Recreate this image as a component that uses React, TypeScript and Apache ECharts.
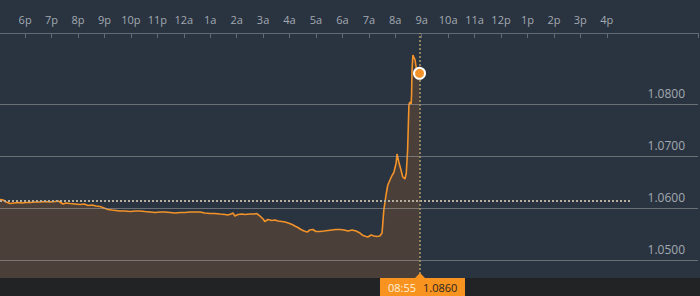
import React, { useEffect, useRef } from "react";
import * as echarts from "echarts";

// minutes relative to 18:00 (6p) of the previous day
const times = [
  -57, -50, -43, -34, -25, -16, -7, 2, 11, 23, 34, 45, 57, 68, 75, 79, 86, 93, 102, 113,
  125, 134, 143, 152, 161, 170, 179, 188, 197, 206, 215, 227, 238, 250, 261, 272, 284, 295,
  306, 318, 329, 340, 352, 363, 374, 386, 397, 408, 420, 431, 442, 454, 460, 467, 472, 476,
  483, 492, 499, 510, 519, 526, 533, 540, 544, 551, 560, 567, 574, 583, 590, 597, 606, 612,
  619, 626, 633, 640, 646, 653, 660, 669, 678, 687, 696, 705, 715, 724, 733, 742, 751, 760,
  767, 774, 778, 785, 792, 798, 805, 810, 814, 819, 823, 828, 832, 837, 842, 844, 848, 853,
  857, 862, 865, 868, 870, 871, 873, 876, 877, 878, 880, 882, 885, 887, 889, 891, 895,
];
const prices = [
  1.06173, 1.06163, 1.06125, 1.06096, 1.06106, 1.06115, 1.06106, 1.06115, 1.06115, 1.06125,
  1.06125, 1.06135, 1.06125, 1.06135, 1.06144, 1.06125, 1.06087, 1.06106, 1.06096, 1.06087,
  1.06077, 1.06087, 1.06058, 1.06067, 1.06048, 1.06038, 1.0601, 1.05981, 1.05971, 1.05962,
  1.05952, 1.05952, 1.05942, 1.05952, 1.05952, 1.05942, 1.05933, 1.05923, 1.05933, 1.05933,
  1.05923, 1.05913, 1.05923, 1.05923, 1.05933, 1.05933, 1.05933, 1.05913, 1.05904, 1.05904,
  1.05894, 1.05885, 1.05875, 1.05894, 1.05913, 1.05856, 1.05885, 1.05894, 1.05885, 1.05894,
  1.05894, 1.05904, 1.05856, 1.05798, 1.0575, 1.05788, 1.05769, 1.05779, 1.0576, 1.0575,
  1.0574, 1.05721, 1.05692, 1.05663, 1.05635, 1.05596, 1.05567, 1.05548, 1.05587, 1.05596,
  1.05558, 1.05558, 1.05567, 1.05577, 1.05587, 1.05596, 1.05596, 1.05587, 1.05567, 1.05587,
  1.05567, 1.05529, 1.05481, 1.05462, 1.05452, 1.0549, 1.05471, 1.05462, 1.05471, 1.05529,
  1.05971, 1.0626, 1.06452, 1.06548, 1.06625, 1.06702, 1.06875, 1.07048, 1.06894, 1.0674,
  1.06606, 1.06567, 1.06683, 1.07125, 1.07702, 1.0799, 1.08048, 1.0801, 1.08183, 1.08663,
  1.08952, 1.08913, 1.08856, 1.0874, 1.08625, 1.08625, 1.086,
];
const hourLabels = [
  "6p", "7p", "8p", "9p", "10p", "11p", "12a", "1a", "2a", "3a", "4a", "5a", "6a", "7a",
  "8a", "9a", "10a", "11a", "12p", "1p", "2p", "3p", "4p",
];
const gridValues = [1.05, 1.06, 1.07, 1.08];
const prevClose = 1.0615;
const prevCloseEnd = 1377;

const X_MIN = -57;
const X_MAX = 1527;
const Y_MIN = 1.04664;
const Y_MAX = 1.09375;

const ORANGE = "#f39229";

export default function App() {
  const ref = useRef<HTMLDivElement>(null);
  useEffect(() => {
    if (!ref.current) return;
    const chart = echarts.init(ref.current, null, { renderer: "svg" });
    const tickValues = hourLabels.map((_, i) => i * 60);
    const lastT = times[times.length - 1];
    const lastV = prices[prices.length - 1];
    const gridLineData: any[] = gridValues.map((v) => ({
      yAxis: v,
      lineStyle: { color: "rgba(170,170,170,0.5)", type: "solid", width: 1 },
      label: {
        show: true,
        position: "insideEndTop",
        formatter: v.toFixed(4),
        color: "#a3a9b0",
        fontSize: 12,
        fontFamily: "Open Sans",
        padding: [0, 8, 0, 0],
      },
    }));
    chart.setOption({
      animation: false,
      backgroundColor: "#2a3441",
      grid: { left: 0, right: 2, top: 33, bottom: 18 },
      xAxis: {
        type: "value",
        position: "top",
        min: X_MIN,
        max: X_MAX,
        axisLine: { show: true, lineStyle: { color: "#626a74", width: 1 } },
        axisTick: {
          show: true,
          inside: true,
          length: 5,
          customValues: [...tickValues, X_MAX],
          lineStyle: { color: "#626a74" },
        },
        axisLabel: {
          customValues: tickValues,
          formatter: (v: number) => hourLabels[Math.round(v / 60)] ?? "",
          color: "#a3a9b0",
          fontSize: 11,
          fontFamily: "Open Sans",
          margin: 8,
        },
        splitLine: { show: false },
      },
      yAxis: {
        type: "value",
        min: Y_MIN,
        max: Y_MAX,
        show: false,
        splitLine: { show: false },
      },
      series: [
        {
          type: "line",
          data: times.map((t, i) => [t, prices[i]]),
          showSymbol: false,
          symbol: "none",
          lineStyle: { color: ORANGE, width: 1.6 },
          areaStyle: { color: "#4a4039", opacity: 1, origin: "start" },
          markLine: {
            silent: true,
            symbol: "none",
            animation: false,
            label: { show: false },
            data: [
              ...gridLineData,
              [
                {
                  coord: [X_MIN, prevClose],
                  lineStyle: { color: "#b8b09c", type: [2, 2], width: 2 },
                  label: { show: false },
                },
                { coord: [prevCloseEnd, prevClose] },
              ],
              {
                xAxis: lastT,
                lineStyle: { color: "#a8966a", type: [2, 2], width: 1.6 },
                label: { show: false },
              },
            ],
          },
          markPoint: {
            silent: true,
            animation: false,
            symbol: "circle",
            symbolSize: 11,
            itemStyle: { color: ORANGE, borderColor: "#ffffff", borderWidth: 2 },
            label: { show: false },
            data: [{ coord: [lastT, lastV] }],
          },
        },
      ],
    });
    const px = chart.convertToPixel({ xAxisIndex: 0, yAxisIndex: 0 }, [lastT, lastV]) as number[];
    const cx = Math.round(px[0]);
    const clockMin = (((18 * 60 + lastT) % 1440) + 1440) % 1440;
    const hh = String(Math.floor(clockMin / 60)).padStart(2, "0");
    const mm = String(clockMin % 60).padStart(2, "0");
    chart.setOption({
      graphic: [
        {
          type: "rect",
          z: 100,
          shape: { x: 0, y: 278, width: 700, height: 18 },
          style: { fill: "#222325" },
        },
        {
          type: "rect",
          z: 101,
          shape: { x: cx - 40, y: 278, width: 85, height: 18 },
          style: { fill: "#f7931e" },
        },
        {
          type: "polygon",
          z: 101,
          shape: { points: [[cx - 5, 278], [cx, 273], [cx + 5, 278]] },
          style: { fill: "#f7931e" },
        },
        {
          type: "text",
          z: 102,
          x: cx - 32,
          y: 287,
          style: {
            text: `${hh}:${mm}`,
            fill: "#fff1dd",
            font: "11px 'Open Sans'",
            verticalAlign: "middle",
          },
        },
        {
          type: "text",
          z: 102,
          x: cx + 3,
          y: 287,
          style: {
            text: lastV.toFixed(4),
            fill: "#2b2520",
            font: "11px 'Open Sans'",
            verticalAlign: "middle",
          },
        },
      ],
    });
    return () => chart.dispose();
  }, []);
  return (
    <div
      ref={ref}
      style={{ position: "absolute", left: 0, top: 0, width: 700, height: 296 }}
    />
  );
}
